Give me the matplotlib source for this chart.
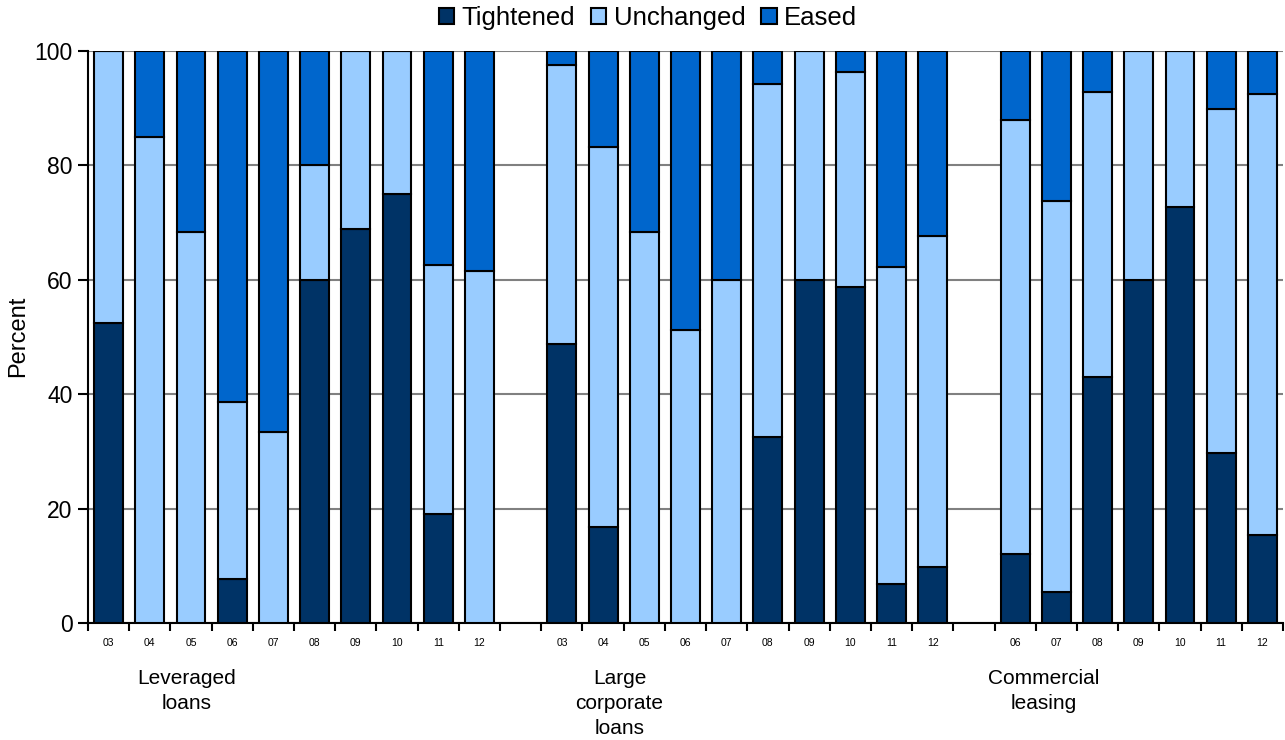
import matplotlib.pyplot as plt
import numpy as np

plt.rcParams['font.family'] = ['Liberation Sans', 'DejaVu Sans']

# Data (percent of respondents)
groups = ['Leveraged\nloans', 'Large\ncorporate\nloans', 'Commercial\nleasing']
years = [['03', '04', '05', '06', '07', '08', '09', '10', '11', '12'],
         ['03', '04', '05', '06', '07', '08', '09', '10', '11', '12'],
         ['06', '07', '08', '09', '10', '11', '12']]

tightened = [52.4, 0, 0, 7.7, 0, 60, 68.8, 75, 19, 0,
             48.8, 16.8, 0, 0, 0, 32.5, 60, 58.7, 6.9, 9.8,
             12, 5.5, 43, 60, 72.8, 29.8, 15.4]
unchanged = [47.6, 85, 68.4, 30.9, 33.4, 20, 31.2, 25, 43.6, 61.5,
             48.7, 66.5, 68.4, 51.2, 60, 61.7, 40, 37.7, 55.3, 57.9,
             76, 68.3, 49.8, 40, 27.2, 60.1, 77]
eased = [0, 15, 31.6, 61.4, 66.6, 20, 0, 0, 37.4, 38.5,
         2.5, 16.7, 31.6, 48.8, 40, 5.8, 0, 3.6, 37.8, 32.3,
         12, 26.2, 7.2, 0, 0, 10.1, 7.6]

# x positions with one empty slot between groups
x = []
labels = []
pos = 0
for g in years:
    for y in g:
        x.append(pos)
        labels.append(y)
        pos += 1
    pos += 1
x = np.array(x)
n_slots = pos - 1

tightened = np.array(tightened)
unchanged = np.array(unchanged)
eased = np.array(eased)

fig = plt.figure(figsize=(12.85, 7.4), dpi=100)
ax = fig.add_axes([88 / 1285, (740 - 623) / 740, (1283 - 88) / 1285, (623 - 51) / 740])

w = 0.7
kw = dict(width=w, edgecolor='black', linewidth=1.5, zorder=3)
ax.bar(x, tightened, color='#003366', label='Tightened', **kw)
ax.bar(x, unchanged, bottom=tightened, color='#99CCFF', label='Unchanged', **kw)
ax.bar(x, eased, bottom=tightened + unchanged, color='#0066CC', label='Eased', **kw)

ax.set_xlim(-0.5, n_slots - 0.5)
ax.set_ylim(0, 100)
ax.set_yticks([0, 20, 40, 60, 80, 100])
ax.yaxis.grid(True, color='#808080', linewidth=1.5, zorder=0)
ax.set_axisbelow(True)

# boundary ticks, labels at centres
ax.set_xticks(np.arange(-0.5, n_slots, 1.0))
ax.set_xticklabels([])
ax.set_xticks(x, minor=True)
ax.set_xticklabels(labels, minor=True, fontsize=7.5)
ax.tick_params(axis='x', which='minor', length=0, pad=11)
ax.tick_params(axis='x', which='major', length=6, width=1.5, direction='out')
ax.tick_params(axis='y', length=7, width=1.5, labelsize=16.5, pad=4)

for s in ['top', 'right']:
    ax.spines[s].set_visible(False)
for s in ['left', 'bottom']:
    ax.spines[s].set_linewidth(1.5)

fig.text(18 / 1285, 1 - 336 / 740, 'Percent', rotation=90, ha='center',
         va='center', fontsize=17)

# group labels under the ticks
group_x = [1.9, 12.4, 22.7]
for gx, g in zip(group_x, groups):
    ax.text(gx, -8.0, g, ha='center', va='top', fontsize=15,
            linespacing=1.4, transform=ax.transData, clip_on=False)

leg = fig.legend(loc='center', ncol=3, frameon=False, fontsize=18.5,
                 handlelength=0.6, handleheight=0.6, handletextpad=0.3,
                 columnspacing=0.6, borderaxespad=0)
leg.set_bbox_to_anchor((648 / 1285, 1 - 18 / 740), transform=fig.transFigure)
for h in leg.legend_handles:
    h.set_linewidth(1.5)

fig.savefig('out.png', dpi=100)
